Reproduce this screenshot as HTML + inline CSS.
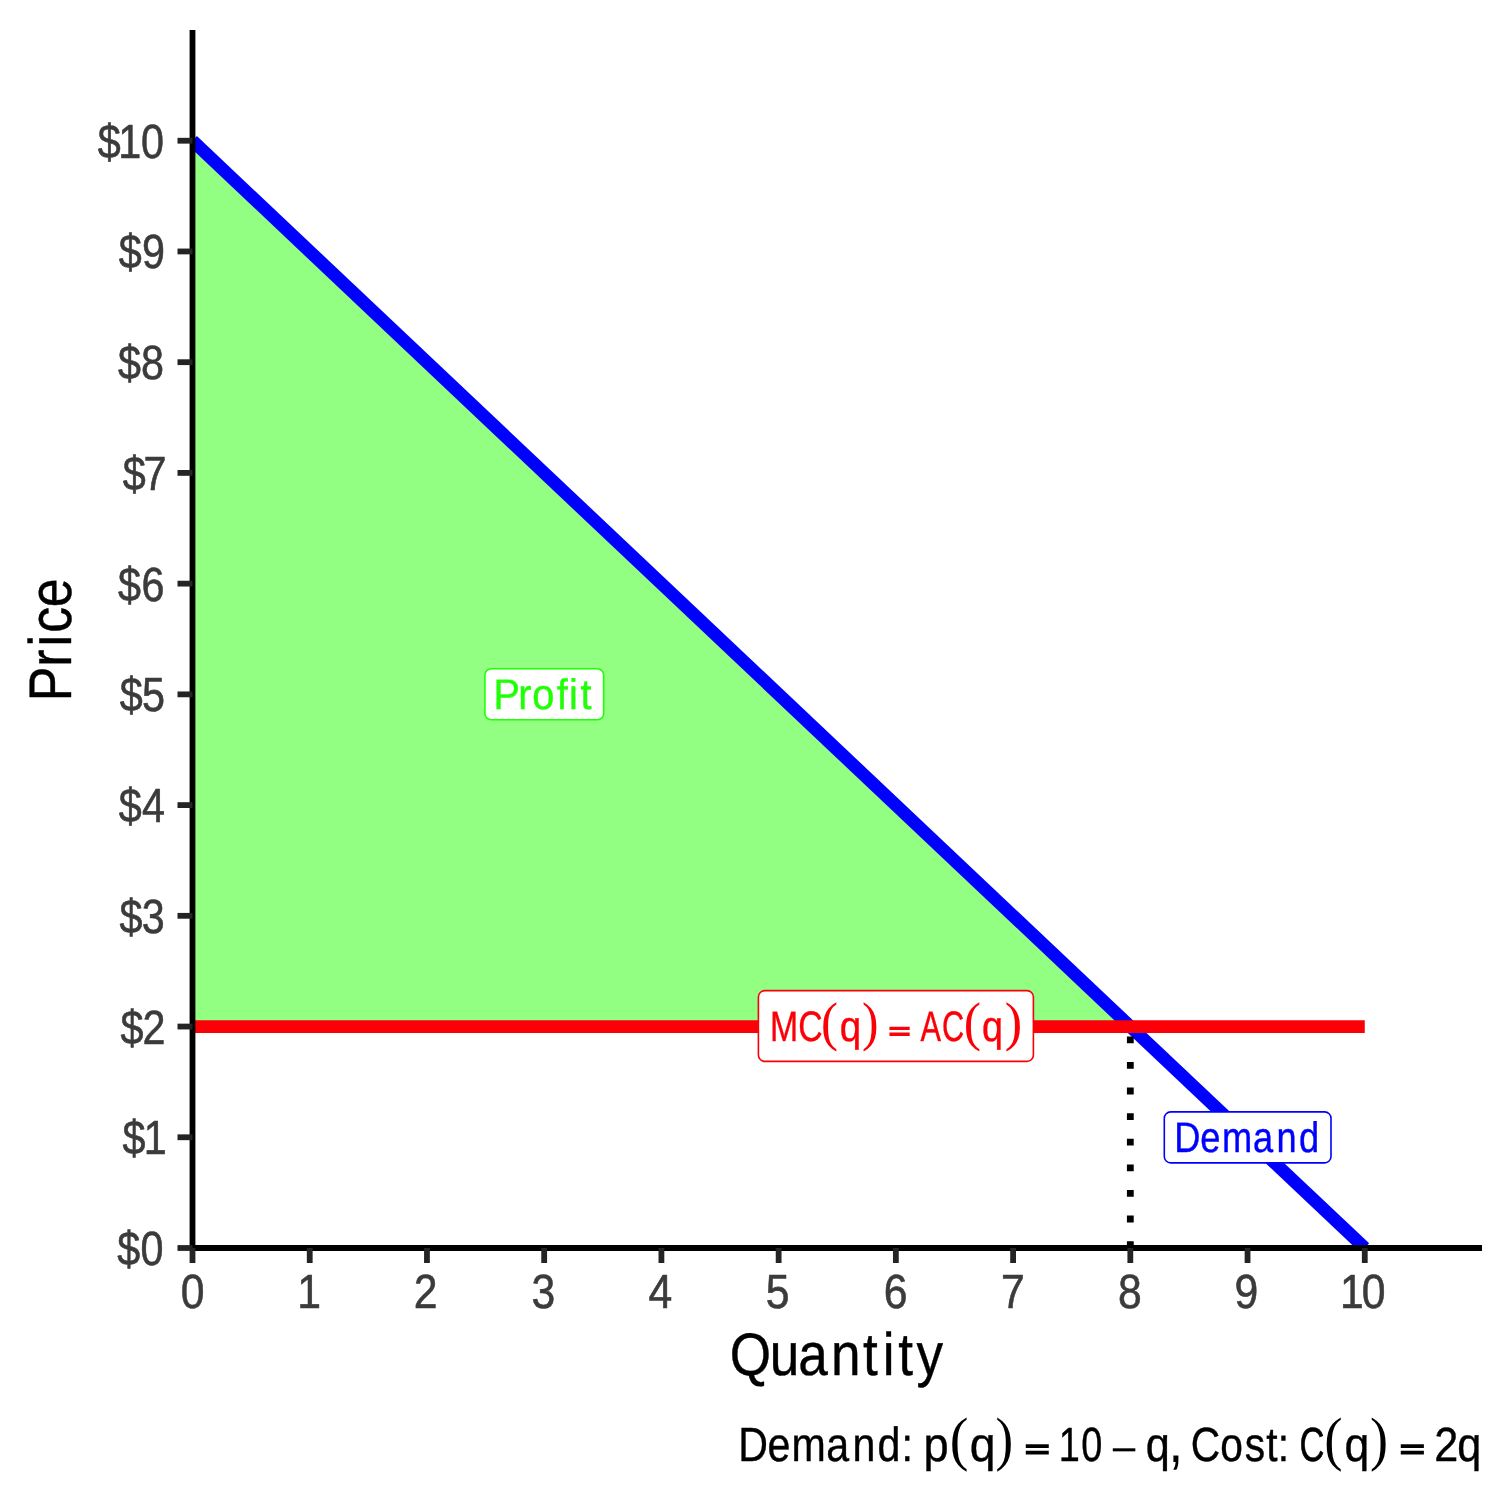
<!DOCTYPE html>
<html lang="en"><head><meta charset="utf-8"><title>Demand</title>
<style>
html,body{margin:0;padding:0;background:#fff;}
body{width:1512px;height:1512px;overflow:hidden;}
svg{display:block;}
svg text{font-family:"Liberation Sans",sans-serif;stroke-linejoin:round;text-rendering:geometricPrecision;}
svg text.sf{font-family:"Liberation Serif",serif;}
svg text.eq{stroke-linejoin:miter;}
</style></head><body>
<svg width="1512" height="1512" viewBox="0 0 1512 1512">
<rect x="0" y="0" width="1512" height="1512" fill="#FFFFFF"/>
<clipPath id="panel"><rect x="192.5" y="30.0" width="1289.5" height="1218.0"/></clipPath>
<g clip-path="url(#panel)">
<polygon points="192.50,140.73 192.50,1026.55 1130.32,1026.55" fill="#93FF82"/>
<line x1="192.50" y1="140.73" x2="1364.77" y2="1248.00" stroke="#0000FF" stroke-width="12.8"/>
<line x1="192.50" y1="1026.55" x2="1364.77" y2="1026.55" stroke="#FB0007" stroke-width="12.8"/>
<line x1="1130.32" y1="1248.00" x2="1130.32" y2="1032.55" stroke="#000000" stroke-width="6.8" stroke-dasharray="6.8 18.8"/>
<rect x="1164.30" y="1111.90" width="166.70" height="51.00" rx="6.4" ry="6.4" fill="#FFFFFF" stroke="#0000FF" stroke-width="1.6"/>
<rect x="758.40" y="990.60" width="275.00" height="70.80" rx="6.4" ry="6.4" fill="#FFFFFF" stroke="#FB0007" stroke-width="1.6"/>
<rect x="484.90" y="668.80" width="118.80" height="51.00" rx="6.4" ry="6.4" fill="#FFFFFF" stroke="#21FF06" stroke-width="1.6"/>
</g>
<text transform="translate(0,1151.80) scale(0.8483,1)" x="1384.17 1414.85 1440.41 1477.12 1504.80 1531.32" y="0" font-size="42.68" fill="#0000FF" stroke="#0000FF" stroke-width="0.4">Demand</text>
<text transform="translate(0,709.10) scale(0.9300,1)" x="530.55 557.37 572.35 598.70 611.92 624.13" y="0" font-size="42.68" fill="#21FF06" stroke="#21FF06" stroke-width="0.4">Profit</text>
<g><text transform="translate(0,1041.00) scale(0.7924,1)" x="971.80 1007.38" y="0" font-size="42.68" fill="#FB0007" stroke="#FB0007" stroke-width="0.4">MC</text><text transform="translate(821.01,1039.79) scale(0.9441,1.0062)" font-size="54" fill="#FB0007" class="sf">(</text><text transform="translate(839.64,1041.00) scale(0.9028,1.0000)" font-size="42.68" fill="#FB0007" stroke="#FB0007" stroke-width="0.4">q</text><text transform="translate(862.11,1039.79) scale(0.9188,1.0062)" font-size="54" fill="#FB0007" class="sf">)</text> <text transform="translate(889.09,1038.64) scale(1.5452,1.0000)" font-size="23.47" fill="#FB0007" class="eq" stroke="#FB0007" stroke-width="1.69">=</text> <text transform="translate(0,1041.00) scale(0.7197,1)" x="1278.89 1309.02" y="0" font-size="42.68" fill="#FB0007" stroke="#FB0007" stroke-width="0.4">AC</text><text transform="translate(963.67,1039.79) scale(0.9586,1.0062)" font-size="54" fill="#FB0007" class="sf">(</text><text transform="translate(982.07,1041.00) scale(0.8824,1.0000)" font-size="42.68" fill="#FB0007" stroke="#FB0007" stroke-width="0.4">q</text><text transform="translate(1004.63,1039.79) scale(0.9687,1.0062)" font-size="54" fill="#FB0007" class="sf">)</text></g>
<line x1="192.5" y1="30.0" x2="192.5" y2="1248.0" stroke="#000" stroke-width="5.8"/>
<line x1="192.5" y1="1248.0" x2="1482.0" y2="1248.0" stroke="#000" stroke-width="5.8"/>
<line x1="192.50" y1="1248.0" x2="192.50" y2="1263.0" stroke="#242424" stroke-width="5.8"/>
<line x1="177.5" y1="1248.00" x2="192.5" y2="1248.00" stroke="#242424" stroke-width="5.8"/>
<line x1="309.73" y1="1248.0" x2="309.73" y2="1263.0" stroke="#242424" stroke-width="5.8"/>
<line x1="177.5" y1="1137.27" x2="192.5" y2="1137.27" stroke="#242424" stroke-width="5.8"/>
<line x1="426.95" y1="1248.0" x2="426.95" y2="1263.0" stroke="#242424" stroke-width="5.8"/>
<line x1="177.5" y1="1026.55" x2="192.5" y2="1026.55" stroke="#242424" stroke-width="5.8"/>
<line x1="544.18" y1="1248.0" x2="544.18" y2="1263.0" stroke="#242424" stroke-width="5.8"/>
<line x1="177.5" y1="915.82" x2="192.5" y2="915.82" stroke="#242424" stroke-width="5.8"/>
<line x1="661.41" y1="1248.0" x2="661.41" y2="1263.0" stroke="#242424" stroke-width="5.8"/>
<line x1="177.5" y1="805.09" x2="192.5" y2="805.09" stroke="#242424" stroke-width="5.8"/>
<line x1="778.64" y1="1248.0" x2="778.64" y2="1263.0" stroke="#242424" stroke-width="5.8"/>
<line x1="177.5" y1="694.36" x2="192.5" y2="694.36" stroke="#242424" stroke-width="5.8"/>
<line x1="895.86" y1="1248.0" x2="895.86" y2="1263.0" stroke="#242424" stroke-width="5.8"/>
<line x1="177.5" y1="583.64" x2="192.5" y2="583.64" stroke="#242424" stroke-width="5.8"/>
<line x1="1013.09" y1="1248.0" x2="1013.09" y2="1263.0" stroke="#242424" stroke-width="5.8"/>
<line x1="177.5" y1="472.91" x2="192.5" y2="472.91" stroke="#242424" stroke-width="5.8"/>
<line x1="1130.32" y1="1248.0" x2="1130.32" y2="1263.0" stroke="#242424" stroke-width="5.8"/>
<line x1="177.5" y1="362.18" x2="192.5" y2="362.18" stroke="#242424" stroke-width="5.8"/>
<line x1="1247.55" y1="1248.0" x2="1247.55" y2="1263.0" stroke="#242424" stroke-width="5.8"/>
<line x1="177.5" y1="251.45" x2="192.5" y2="251.45" stroke="#242424" stroke-width="5.8"/>
<line x1="1364.77" y1="1248.0" x2="1364.77" y2="1263.0" stroke="#242424" stroke-width="5.8"/>
<line x1="177.5" y1="140.73" x2="192.5" y2="140.73" stroke="#242424" stroke-width="5.8"/>
<text transform="translate(0,157.73) scale(0.8600,1)" x="113.78 137.42 163.83" y="0" font-size="48" fill="#3B3B3B" stroke="#3B3B3B" stroke-width="0.6">$10</text>
<text transform="translate(0,268.45) scale(0.8600,1)" x="138.08 165.11" y="0" font-size="48" fill="#3B3B3B" stroke="#3B3B3B" stroke-width="0.6">$9</text>
<text transform="translate(0,379.18) scale(0.8600,1)" x="137.15 164.06" y="0" font-size="48" fill="#3B3B3B" stroke="#3B3B3B" stroke-width="0.6">$8</text>
<text transform="translate(0,489.91) scale(0.8600,1)" x="142.61 166.74" y="0" font-size="48" fill="#3B3B3B" stroke="#3B3B3B" stroke-width="0.6">$7</text>
<text transform="translate(0,600.64) scale(0.8600,1)" x="137.15 164.53" y="0" font-size="48" fill="#3B3B3B" stroke="#3B3B3B" stroke-width="0.6">$6</text>
<text transform="translate(0,711.36) scale(0.8600,1)" x="139.24 165.23" y="0" font-size="48" fill="#3B3B3B" stroke="#3B3B3B" stroke-width="0.6">$5</text>
<text transform="translate(0,822.09) scale(0.8600,1)" x="138.08 165.17" y="0" font-size="48" fill="#3B3B3B" stroke="#3B3B3B" stroke-width="0.6">$4</text>
<text transform="translate(0,932.82) scale(0.8600,1)" x="139.01 164.71" y="0" font-size="48" fill="#3B3B3B" stroke="#3B3B3B" stroke-width="0.6">$3</text>
<text transform="translate(0,1043.55) scale(0.8600,1)" x="140.17 165.58" y="0" font-size="48" fill="#3B3B3B" stroke="#3B3B3B" stroke-width="0.6">$2</text>
<text transform="translate(0,1154.27) scale(0.8600,1)" x="142.50 167.07" y="0" font-size="48" fill="#3B3B3B" stroke="#3B3B3B" stroke-width="0.6">$1</text>
<text transform="translate(0,1265.00) scale(0.8600,1)" x="136.22 163.42" y="0" font-size="48" fill="#3B3B3B" stroke="#3B3B3B" stroke-width="0.6">$0</text>
<text transform="translate(0,1308.20) scale(0.8900,1)" x="203.08" y="0" font-size="48" fill="#3B3B3B" stroke="#3B3B3B" stroke-width="0.6">0</text>
<text transform="translate(0,1308.20) scale(0.8900,1)" x="334.11" y="0" font-size="48" fill="#3B3B3B" stroke="#3B3B3B" stroke-width="0.6">1</text>
<text transform="translate(0,1308.20) scale(0.8900,1)" x="464.94" y="0" font-size="48" fill="#3B3B3B" stroke="#3B3B3B" stroke-width="0.6">2</text>
<text transform="translate(0,1308.20) scale(0.8900,1)" x="597.25" y="0" font-size="48" fill="#3B3B3B" stroke="#3B3B3B" stroke-width="0.6">3</text>
<text transform="translate(0,1308.20) scale(0.8900,1)" x="728.60" y="0" font-size="48" fill="#3B3B3B" stroke="#3B3B3B" stroke-width="0.6">4</text>
<text transform="translate(0,1308.20) scale(0.8900,1)" x="860.33" y="0" font-size="48" fill="#3B3B3B" stroke="#3B3B3B" stroke-width="0.6">5</text>
<text transform="translate(0,1308.20) scale(0.8900,1)" x="993.02" y="0" font-size="48" fill="#3B3B3B" stroke="#3B3B3B" stroke-width="0.6">6</text>
<text transform="translate(0,1308.20) scale(0.8900,1)" x="1124.60" y="0" font-size="48" fill="#3B3B3B" stroke="#3B3B3B" stroke-width="0.6">7</text>
<text transform="translate(0,1308.20) scale(0.8900,1)" x="1256.17" y="0" font-size="48" fill="#3B3B3B" stroke="#3B3B3B" stroke-width="0.6">8</text>
<text transform="translate(0,1308.20) scale(0.8900,1)" x="1387.07" y="0" font-size="48" fill="#3B3B3B" stroke="#3B3B3B" stroke-width="0.6">9</text>
<text transform="translate(0,1308.20) scale(0.8900,1)" x="1505.69 1530.11" y="0" font-size="48" fill="#3B3B3B" stroke="#3B3B3B" stroke-width="0.6">10</text>
<text transform="translate(0,1375.40) scale(0.8858,1)" x="823.71 869.06 901.09 938.28 974.38 996.49 1014.14 1034.80" y="0" font-size="60" fill="#000" stroke="#000" stroke-width="0.4">Quantity</text>
<text transform="translate(71.20,696.10) rotate(-90) scale(0.8660,1)" x="-5.95 33.87 57.20 73.20 102.52" y="0" font-size="60" fill="#000" stroke="#000" stroke-width="0.4">Price</text>
<g><text transform="translate(0,1461.40) scale(0.8565,1)" x="862.04 895.97 924.05 964.65 995.21 1024.47 1052.66" y="0" font-size="48" fill="#000" stroke="#000" stroke-width="0.4">Demand:</text> <text transform="translate(923.55,1461.40) scale(0.9409,1.0000)" font-size="48" fill="#000" stroke="#000" stroke-width="0.4">p</text><text transform="translate(949.78,1459.40) scale(1.0385,1.1111)" font-size="54" fill="#000" class="sf">(</text><text transform="translate(969.64,1461.40) scale(0.9636,1.0000)" font-size="48" fill="#000" stroke="#000" stroke-width="0.4">q</text><text transform="translate(995.61,1459.40) scale(0.9829,1.1111)" font-size="54" fill="#000" class="sf">)</text> <text transform="translate(1025.22,1458.39) scale(1.5873,1.0004)" font-size="26.02" fill="#000" class="eq" stroke="#000" stroke-width="1.87">=</text> <text transform="translate(0,1461.40) scale(0.7889,1)" x="1341.99 1370.54" y="0" font-size="48" fill="#000" stroke="#000" stroke-width="0.4">10</text> <text transform="translate(1110.58,1463.79) scale(0.9665,0.8889)" font-size="48" fill="#000">−</text> <text transform="translate(1145.75,1461.40) scale(0.9000,1.0000)" font-size="48" fill="#000" stroke="#000" stroke-width="0.4">q</text><text transform="translate(1168.60,1461.75) scale(1.0965,1.2591)" font-size="48" fill="#000">,</text> <text transform="translate(0,1461.40) scale(0.8488,1)" x="1402.73 1437.62 1466.63 1491.94 1505.43" y="0" font-size="48" fill="#000" stroke="#000" stroke-width="0.4">Cost:</text> <text transform="translate(1299.60,1461.40) scale(0.7189,1.0000)" font-size="48" fill="#000" stroke="#000" stroke-width="0.64">C</text><text transform="translate(1324.33,1459.40) scale(1.0167,1.1111)" font-size="54" fill="#000" class="sf">(</text><text transform="translate(1344.51,1461.40) scale(0.9273,1.0000)" font-size="48" fill="#000" stroke="#000" stroke-width="0.4">q</text><text transform="translate(1370.07,1459.40) scale(1.0043,1.1111)" font-size="54" fill="#000" class="sf">)</text> <text transform="translate(1400.22,1458.39) scale(1.5942,1.0004)" font-size="26.02" fill="#000" class="eq" stroke="#000" stroke-width="1.87">=</text> <text transform="translate(0,1461.40) scale(0.8996,1)" x="1594.21 1619.82" y="0" font-size="48" fill="#000" stroke="#000" stroke-width="0.4">2q</text></g>
</svg>
</body></html>
